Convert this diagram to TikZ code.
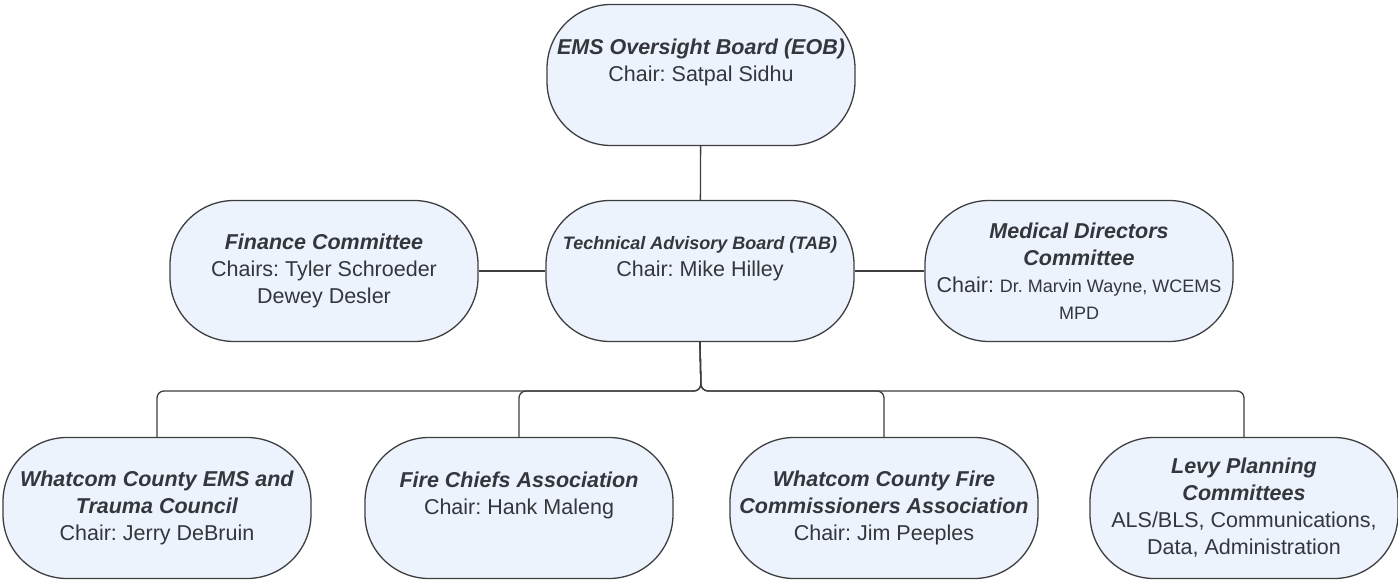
\documentclass[tikz,border=0pt]{standalone}
\usepackage{fontspec}
\setmainfont{Liberation Sans}
\frenchspacing
\definecolor{boxblue}{RGB}{236,243,252}
\definecolor{linegray}{RGB}{62,62,66}
\definecolor{textgray}{RGB}{52,54,60}
\newcommand{\orgtitle}[1]{\textbf{\textit{#1}}}

\begin{document}
\begin{tikzpicture}[x=1pt,y=-1pt,
			orgbox/.style={draw=linegray, line width=1.3pt, fill=boxblue,
				rounded corners=64pt, minimum width=308pt, minimum height=141pt,
				align=center, text=textgray, inner sep=0pt,
				font=\fontsize{21.5}{27}\selectfont},
			link/.style={draw=linegray, line width=1.3pt},
			bus/.style={link, rounded corners=7pt}]
			\useasboundingbox (0,0) rectangle (1398,580);
			% top level
			\node[orgbox] (eob) at (701,75) {\orgtitle{EMS Oversight Board (EOB)}\\Chair: Satpal Sidhu\\[2pt]};
			% middle row
			\node[orgbox] (tab) at (700,271) {{\fontsize{18}{27}\selectfont\orgtitle{Technical Advisory Board (TAB)}}\\Chair: Mike Hilley\\[2pt]};
			\node[orgbox] (finance) at (324,271) {\orgtitle{Finance Committee}\\Chairs: Tyler Schroeder\\Dewey Desler};
			\node[orgbox] (medical) at (1079,271) {\orgtitle{Medical Directors}\\\orgtitle{Committee}\\Chair: {\fontsize{18}{27}\selectfont Dr. Marvin Wayne, WCEMS}\\{\fontsize{18}{23}\selectfont MPD}};
			% bottom row
			\node[orgbox] (council) at (157,508) {\orgtitle{Whatcom County EMS and}\\\orgtitle{Trauma Council}\\Chair: Jerry DeBruin};
			\node[orgbox] (chiefs) at (519,508) {\orgtitle{Fire Chiefs Association}\\Chair: Hank Maleng\\[2pt]};
			\node[orgbox] (commish) at (884,508) {\orgtitle{Whatcom County Fire}\\\orgtitle{Commissioners Association}\\Chair: Jim Peeples};
			\node[orgbox] (levy) at (1244,508) {\orgtitle{Levy Planning}\\\orgtitle{Committees}\\ALS/BLS, Communications,\\Data, Administration};
			\coordinate (split) at (701,391);
			% connectors
			\draw[link] (eob) -- (tab);
			\draw[link] (finance) -- (tab);
			\draw[link] (tab) -- (medical);
			\draw[bus] (tab.south) -- (split) -| (council.north);
			\draw[bus] (tab.south) -- (split) -| (chiefs.north);
			\draw[bus] (tab.south) -- (split) -| (commish.north);
			\draw[bus] (tab.south) -- (split) -| (levy.north);
\end{tikzpicture}
\end{document}
